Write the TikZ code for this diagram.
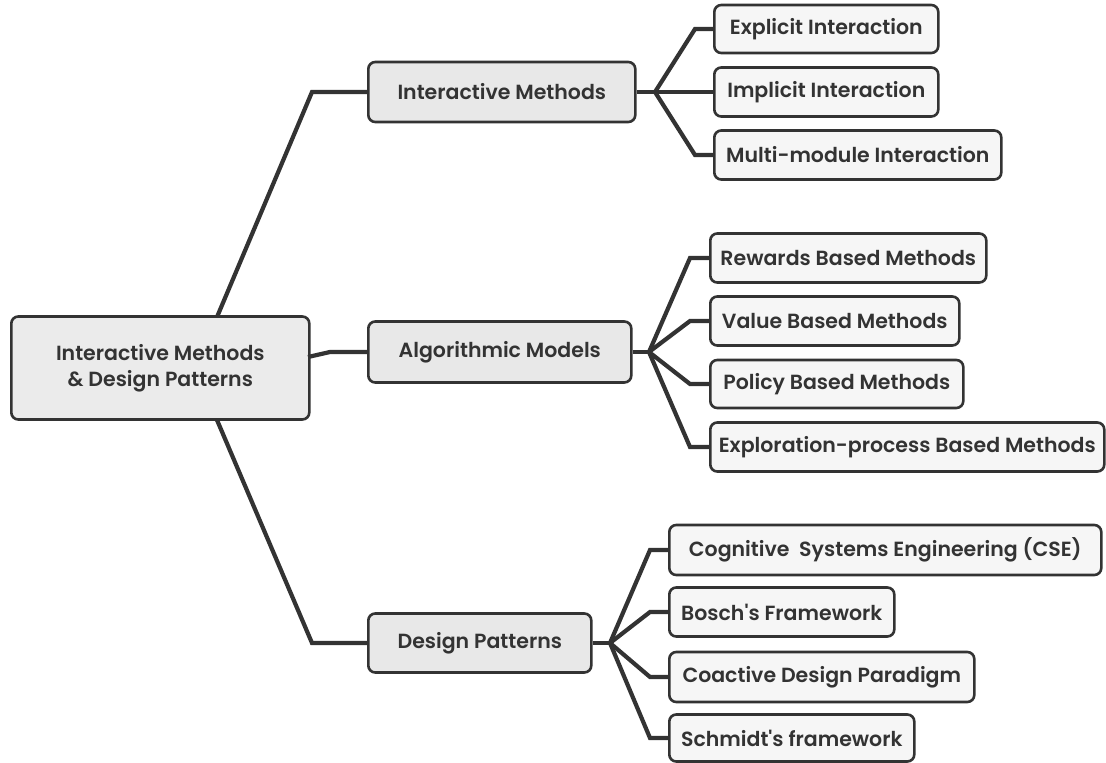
\documentclass[tikz,border=0pt]{standalone}
\usepackage{fontspec}
\setmainfont{Poppins}[UprightFont=* SemiBold]
\usepackage{tikz}

\definecolor{edge}{HTML}{333333}
\definecolor{rootfill}{HTML}{EBEBEB}
\definecolor{midfill}{HTML}{E8E8E8}
\definecolor{leaffill}{HTML}{F6F6F6}

\tikzset{
    box/.style={draw=edge, line width=2.6pt, rounded corners=7pt, anchor=west,
        text=edge, inner xsep=6pt, font=\fontsize{20.5}{26}\selectfont},
    rootbox/.style={box, fill=rootfill, align=center},
    midbox/.style={box, fill=midfill},
    leafbox/.style={box, fill=leaffill},
    link/.style={draw=edge, line width=4.2pt}
}

\begin{document}
\begin{tikzpicture}[x=1pt, y=-1pt]
    \useasboundingbox (0,0) rectangle (1106,763);

    \node[rootbox, minimum width=298pt, minimum height=103pt] (Root) at (10,368) {Interactive Methods\\ \& Design Patterns};

    \node[midbox, minimum width=267pt, minimum height=60pt] (IM) at (367,92) {Interactive Methods};
    \node[midbox, minimum width=263pt, minimum height=61pt] (AM) at (367,352) {Algorithmic Models};
    \node[midbox, minimum width=223pt, minimum height=59pt] (DP) at (367,643) {Design Patterns};

    \node[leafbox, minimum width=224pt, minimum height=48pt] (Expl) at (713,29) {Explicit Interaction};
    \node[leafbox, minimum width=224pt, minimum height=49pt] (Impl) at (713,92) {Implicit Interaction};
    \node[leafbox, minimum width=287pt, minimum height=49pt] (Multi) at (713,155) {Multi-module Interaction};

    \node[leafbox, minimum width=276pt, minimum height=49pt] (Rew) at (709,258) {Rewards Based Methods};
    \node[leafbox, minimum width=249pt, minimum height=49pt] (Val) at (709,321) {Value Based Methods};
    \node[leafbox, minimum width=253pt, minimum height=48pt] (Pol) at (709,384) {Policy Based Methods};
    \node[leafbox, minimum width=394pt, minimum height=49pt] (Explo) at (709,447) {Exploration-process Based Methods};

    \node[leafbox, minimum width=432pt, minimum height=50pt] (CSE) at (668,550) {Cognitive\ \ Systems Engineering (CSE)};
    \node[leafbox, minimum width=225pt, minimum height=49pt] (Bosch) at (668,612) {Bosch\textquotesingle s Framework};
    \node[leafbox, minimum width=305pt, minimum height=50pt] (Coact) at (668,677) {Coactive Design Paradigm};
    \node[leafbox, minimum width=245pt, minimum height=47pt] (Schm) at (668,738) {Schmidt\textquotesingle s framework};

    \coordinate (RootTop) at (217,317);
    \coordinate (RootRight) at (308,357);
    \coordinate (RootBot) at (217,420);
    \coordinate (IMfan) at (655,92);
    \coordinate (AMfan) at (649,352);
    \coordinate (DPfan) at (610,643);

    \draw[link] (RootTop) -- ([xshift=-55pt]IM.west) -- (IM.west);
    \draw[link] (RootRight) -- ([xshift=-37pt]AM.west) -- (AM.west);
    \draw[link] (RootBot) -- ([xshift=-55pt]DP.west) -- (DP.west);

    \draw[link] (IM.east) -- (IMfan);
    \draw[link] (IMfan) -- ([xshift=-18pt]Expl.west) -- (Expl.west);
    \draw[link] (IMfan) -- (Impl.west);
    \draw[link] (IMfan) -- ([xshift=-18pt]Multi.west) -- (Multi.west);

    \draw[link] (AM.east) -- (AMfan);
    \draw[link] (AMfan) -- ([xshift=-19pt]Rew.west) -- (Rew.west);
    \draw[link] (AMfan) -- ([xshift=-19pt]Val.west) -- (Val.west);
    \draw[link] (AMfan) -- ([xshift=-19pt]Pol.west) -- (Pol.west);
    \draw[link] (AMfan) -- ([xshift=-19pt]Explo.west) -- (Explo.west);

    \draw[link] (DP.east) -- (DPfan);
    \draw[link] (DPfan) -- ([xshift=-18pt]CSE.west) -- (CSE.west);
    \draw[link] (DPfan) -- ([xshift=-18pt]Bosch.west) -- (Bosch.west);
    \draw[link] (DPfan) -- ([xshift=-18pt]Coact.west) -- (Coact.west);
    \draw[link] (DPfan) -- ([xshift=-18pt]Schm.west) -- (Schm.west);
\end{tikzpicture}
\end{document}
